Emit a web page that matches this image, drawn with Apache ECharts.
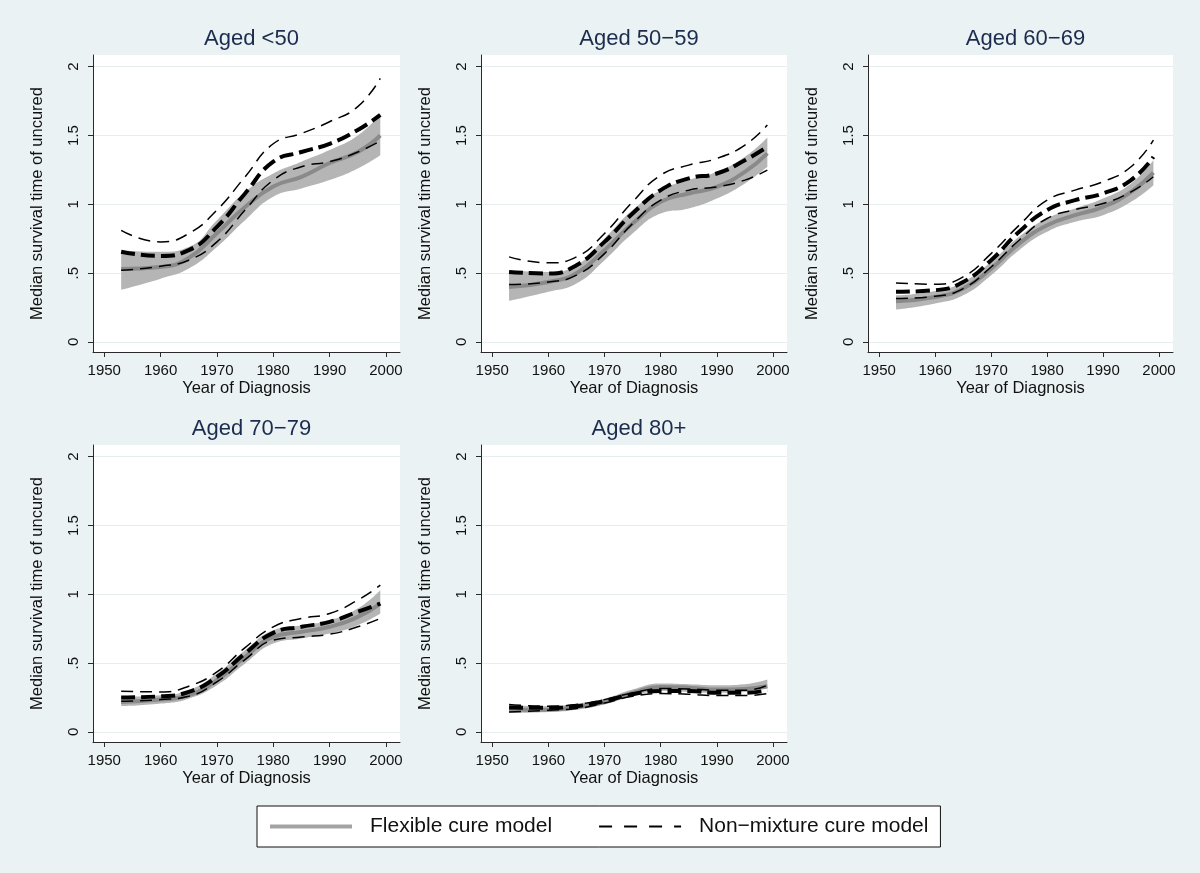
<!DOCTYPE html>
<html>
<head>
<meta charset="utf-8">
<script src="https://cdn.jsdelivr.net/npm/echarts@6/dist/echarts.min.js"></script>
<style>
body { margin: 0; background: #eaf2f3; }
#chart { width: 1200px; height: 873px; }
</style>
</head>
<body>
<div id="chart"></div>
<script>
const years = [1953, 1960, 1965, 1970, 1975, 1980, 1985, 1990, 1995, 1999];
const panelTitles = ['Aged <50', 'Aged 50−59', 'Aged 60−69', 'Aged 70−79', 'Aged 80+'];
const xTicks = [1950, 1960, 1970, 1980, 1990, 2000];
const yTicks = [0, 0.5, 1, 1.5, 2];

// flexible cure model (one row per age group)
const flexEst = [
  [0.53, 0.545, 0.61, 0.79, 0.98, 1.13, 1.2, 1.3, 1.38, 1.5],
  [0.40, 0.436, 0.50, 0.667, 0.86, 1.018, 1.079, 1.127, 1.236, 1.37],
  [0.296, 0.327, 0.388, 0.533, 0.715, 0.848, 0.921, 0.982, 1.09, 1.23],
  [0.218, 0.235, 0.267, 0.376, 0.545, 0.69, 0.727, 0.764, 0.836, 0.933],
  [0.162, 0.162, 0.182, 0.218, 0.284, 0.327, 0.322, 0.308, 0.313, 0.332]
];
const flexLow = [
  [0.38, 0.46, 0.533, 0.69, 0.885, 1.055, 1.115, 1.176, 1.26, 1.357],
  [0.298, 0.364, 0.424, 0.594, 0.788, 0.933, 0.97, 1.042, 1.152, 1.273],
  [0.235, 0.279, 0.339, 0.485, 0.667, 0.8, 0.873, 0.921, 1.018, 1.139],
  [0.187, 0.206, 0.242, 0.339, 0.497, 0.642, 0.679, 0.715, 0.776, 0.861],
  [0.138, 0.145, 0.162, 0.2, 0.259, 0.298, 0.291, 0.284, 0.291, 0.315]
];
const flexHigh = [
  [0.667, 0.655, 0.69, 0.885, 1.09, 1.224, 1.31, 1.394, 1.5, 1.653],
  [0.521, 0.509, 0.558, 0.752, 0.958, 1.103, 1.176, 1.236, 1.345, 1.486],
  [0.339, 0.371, 0.436, 0.582, 0.764, 0.897, 0.97, 1.042, 1.152, 1.321],
  [0.255, 0.267, 0.303, 0.424, 0.594, 0.739, 0.776, 0.812, 0.897, 1.03],
  [0.194, 0.187, 0.206, 0.242, 0.308, 0.352, 0.347, 0.339, 0.347, 0.381]
];

// non-mixture cure model
const nmEst = [
  [0.655, 0.625, 0.667, 0.836, 1.079, 1.31, 1.38, 1.44, 1.54, 1.65],
  [0.509, 0.497, 0.558, 0.727, 0.933, 1.103, 1.188, 1.224, 1.32, 1.418],
  [0.364, 0.376, 0.436, 0.594, 0.8, 0.958, 1.03, 1.079, 1.176, 1.345],
  [0.25, 0.259, 0.291, 0.4, 0.57, 0.72, 0.764, 0.8, 0.873, 0.933],
  [0.177, 0.175, 0.187, 0.225, 0.274, 0.298, 0.298, 0.284, 0.284, 0.303]
];
const nmLow = [
  [0.521, 0.55, 0.594, 0.727, 0.958, 1.176, 1.273, 1.31, 1.38, 1.46],
  [0.417, 0.436, 0.485, 0.642, 0.86, 1.03, 1.103, 1.127, 1.176, 1.248],
  [0.315, 0.332, 0.388, 0.545, 0.739, 0.897, 0.962, 1.006, 1.09, 1.2],
  [0.223, 0.235, 0.259, 0.364, 0.526, 0.667, 0.69, 0.71, 0.764, 0.824],
  [0.145, 0.158, 0.17, 0.21, 0.259, 0.279, 0.274, 0.264, 0.264, 0.279]
];
const nmHigh = [
  [0.81, 0.727, 0.788, 0.958, 1.2, 1.44, 1.515, 1.6, 1.71, 1.915],
  [0.618, 0.575, 0.618, 0.788, 1.018, 1.212, 1.285, 1.333, 1.43, 1.576],
  [0.429, 0.419, 0.473, 0.642, 0.848, 1.03, 1.103, 1.164, 1.273, 1.467],
  [0.296, 0.291, 0.332, 0.436, 0.613, 0.764, 0.824, 0.861, 0.958, 1.067],
  [0.2, 0.187, 0.2, 0.235, 0.284, 0.315, 0.313, 0.303, 0.303, 0.339]
];

const font = "'Liberation Sans', Arial, sans-serif";
const axisColor = '#2a2a2a';
const grids = [
  { left: 93, top: 55, width: 307, height: 297 },
  { left: 481, top: 55, width: 306, height: 297 },
  { left: 868, top: 55, width: 305, height: 297 },
  { left: 93, top: 445, width: 307, height: 297 },
  { left: 481, top: 445, width: 306, height: 297 }
];

const pts = (row) => years.map((y, i) => [y, row[i]]);
// value first so the stack is applied to y, not to the year
const stackPts = (row) => years.map((y, i) => [row[i], y]);

const chart = echarts.init(document.getElementById('chart'));
const option = {
  backgroundColor: '#eaf2f3',
  animation: false,
  title: panelTitles.map((t, i) => ({
    text: t,
    left: grids[i].left + grids[i].width / 2,
    top: grids[i].top - 32,
    textAlign: 'center',
    textStyle: { fontSize: 22, fontWeight: 'normal', color: '#1c2c4e', fontFamily: font }
  })),
  legend: {
    left: 257,
    top: 806,
    padding: [10, 12, 10, 11],
    itemGap: 46,
    itemWidth: 82,
    itemHeight: 14,
    selectedMode: false,
    backgroundColor: '#fff',
    borderColor: '#111',
    borderWidth: 1,
    borderRadius: 0,
    textStyle: { fontSize: 21, color: '#111', fontFamily: font, padding: [0, 0, 0, 13] },
    data: [
      { name: 'Flexible cure model', itemStyle: { opacity: 0 }, lineStyle: { color: '#a3a3a3', width: 4, type: 'solid' } },
      { name: 'Non−mixture cure model', itemStyle: { opacity: 0 }, lineStyle: { color: '#000', width: 2, type: [13, 12] } }
    ]
  },
  grid: grids.map(g => Object.assign({ show: true, backgroundColor: '#fff', borderWidth: 0 }, g)),
  xAxis: grids.map((g, i) => ({
    type: 'value',
    gridIndex: i,
    min: 1948,
    max: 2002.5,
    name: 'Year of Diagnosis',
    nameLocation: 'middle',
    nameGap: 28,
    nameTextStyle: { fontSize: 16.5, color: '#111', fontFamily: font },
    axisLine: { show: true, onZero: false, lineStyle: { color: axisColor } },
    axisTick: { show: true, length: 5, customValues: xTicks, lineStyle: { color: axisColor } },
    axisLabel: { customValues: xTicks, fontSize: 15, color: '#111', margin: 11, fontFamily: font, formatter: v => String(v) },
    splitLine: { show: false }
  })),
  yAxis: grids.map((g, i) => ({
    type: 'value',
    gridIndex: i,
    min: -0.073,
    max: 2.085,
    name: 'Median survival time of uncured',
    nameLocation: 'middle',
    nameGap: 47,
    nameRotate: 90,
    nameTextStyle: { fontSize: 16.5, color: '#111', fontFamily: font },
    axisLine: { show: true, onZero: false, lineStyle: { color: axisColor } },
    axisTick: { show: true, length: 5, customValues: yTicks, lineStyle: { color: axisColor } },
    axisLabel: {
      customValues: yTicks,
      rotate: 90,
      fontSize: 15,
      color: '#111',
      margin: 12,
      fontFamily: font,
      formatter: v => v === 0 ? '0' : String(v).replace(/^0/, '')
    },
    splitLine: { show: true, lineStyle: { color: '#e6eef0', width: 1 } }
  })),
  series: []
};

grids.forEach((g, p) => {
  const base = { type: 'line', xAxisIndex: p, yAxisIndex: p, smooth: true, symbol: 'none', silent: true };
  option.series.push(
    Object.assign({}, base, {
      name: 'band-low-' + p, stack: 'band' + p, encode: { x: 1, y: 0 },
      data: stackPts(flexLow[p]), lineStyle: { opacity: 0 }
    }),
    Object.assign({}, base, {
      name: 'band-' + p, stack: 'band' + p, encode: { x: 1, y: 0 },
      data: stackPts(flexHigh[p].map((v, i) => v - flexLow[p][i])),
      lineStyle: { opacity: 0 }, areaStyle: { color: '#b5b5b5', opacity: 1 }
    }),
    Object.assign({}, base, {
      name: 'Flexible cure model', data: pts(flexEst[p]),
      lineStyle: { color: '#8a8a8a', width: 4 }
    }),
    Object.assign({}, base, {
      name: 'nm-low-' + p, data: pts(nmLow[p]),
      lineStyle: { color: '#000', width: 1.5, type: [12, 7] }
    }),
    Object.assign({}, base, {
      name: 'nm-high-' + p, data: pts(nmHigh[p]),
      lineStyle: { color: '#000', width: 1.5, type: [12, 7] }
    }),
    Object.assign({}, base, {
      name: 'Non−mixture cure model', data: pts(nmEst[p]),
      lineStyle: { color: '#000', width: 4, type: [14, 6] }
    })
  );
});

chart.setOption(option);
</script>
</body>
</html>
